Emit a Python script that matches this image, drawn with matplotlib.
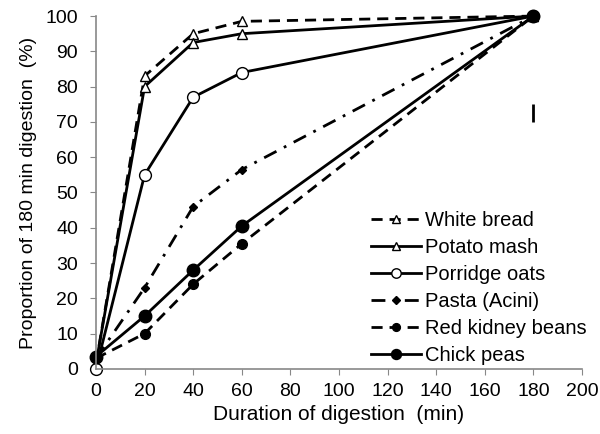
import matplotlib
matplotlib.use('Agg')
import matplotlib.pyplot as plt

plt.rcParams['font.family'] = ['Liberation Sans', 'DejaVu Sans']

times = [0, 20, 40, 60, 180]
white_bread = [1.5, 83, 95, 98.5, 100]
potato_mash = [1.5, 80, 92.5, 95, 100]
porridge_oats = [0, 55, 77, 84, 100]
pasta = [3, 23, 46, 56.5, 100]
kidney_beans = [3, 10, 24, 35.5, 100]
chick_peas = [3.5, 15, 28, 40.5, 100]

err_x = [180]
err_y = [72.5]
err_size = [2.6]

fig = plt.figure(figsize=(6, 4.34), dpi=100)
ax = fig.add_axes([0.16, 0.15, 0.81, 0.813])

ax.plot(times, white_bread, color='black', lw=2, ls=(0, (4, 2.5)), marker='^',
        mfc='white', mec='black', mew=1, ms=7, label='White bread')
ax.plot(times, potato_mash, color='black', lw=2, ls='-', marker='^',
        mfc='white', mec='black', mew=1, ms=7, label='Potato mash')
ax.plot(times, porridge_oats, color='black', lw=2, ls='-', marker='o',
        mfc='white', mec='black', mew=1, ms=8.5, label='Porridge oats')
ax.plot(times, pasta, color='black', lw=2, ls=(0, (5, 3, 1, 3)), marker='D',
        mfc='black', mec='black', ms=4.5, label='Pasta (Acini)')
ax.plot(times, kidney_beans, color='black', lw=2, ls=(0, (4, 2.5)), marker='o',
        mfc='black', mec='black', ms=7, label='Red kidney beans')
ax.plot(times, chick_peas, color='black', lw=2, ls='-', marker='o',
        mfc='black', mec='black', ms=9, label='Chick peas')

ax.errorbar(err_x, err_y, yerr=err_size, fmt='none', ecolor='black', elinewidth=2, capsize=0)

ax.set_xlim(0, 200)
ax.set_ylim(0, 100)
ax.set_xticks(range(0, 201, 20))
ax.set_yticks(range(0, 101, 10))
ax.tick_params(labelsize=14, color='#888888', length=4, direction='out')
ax.tick_params(axis='y', pad=9)
ax.tick_params(axis='x', pad=6)
for s in ['top', 'right']:
    ax.spines[s].set_visible(False)
for s in ['left', 'bottom']:
    ax.spines[s].set_color('#888888')
    ax.spines[s].set_linewidth(1.2)
for line in ax.lines:
    line.set_clip_on(False)

ax.set_xlabel('Duration of digestion  (min)', fontsize=15, labelpad=4)
ax.set_ylabel('Proportion of 180 min digestion  (%)', fontsize=14, labelpad=6)

ax.legend(loc='lower right', bbox_to_anchor=(1.035, -0.024), frameon=False, fontsize=14.5,
          handlelength=2.5, handletextpad=0.2, labelspacing=0.4, borderaxespad=0.2,
          markerscale=0.8)

plt.savefig('out.png', dpi=100)
